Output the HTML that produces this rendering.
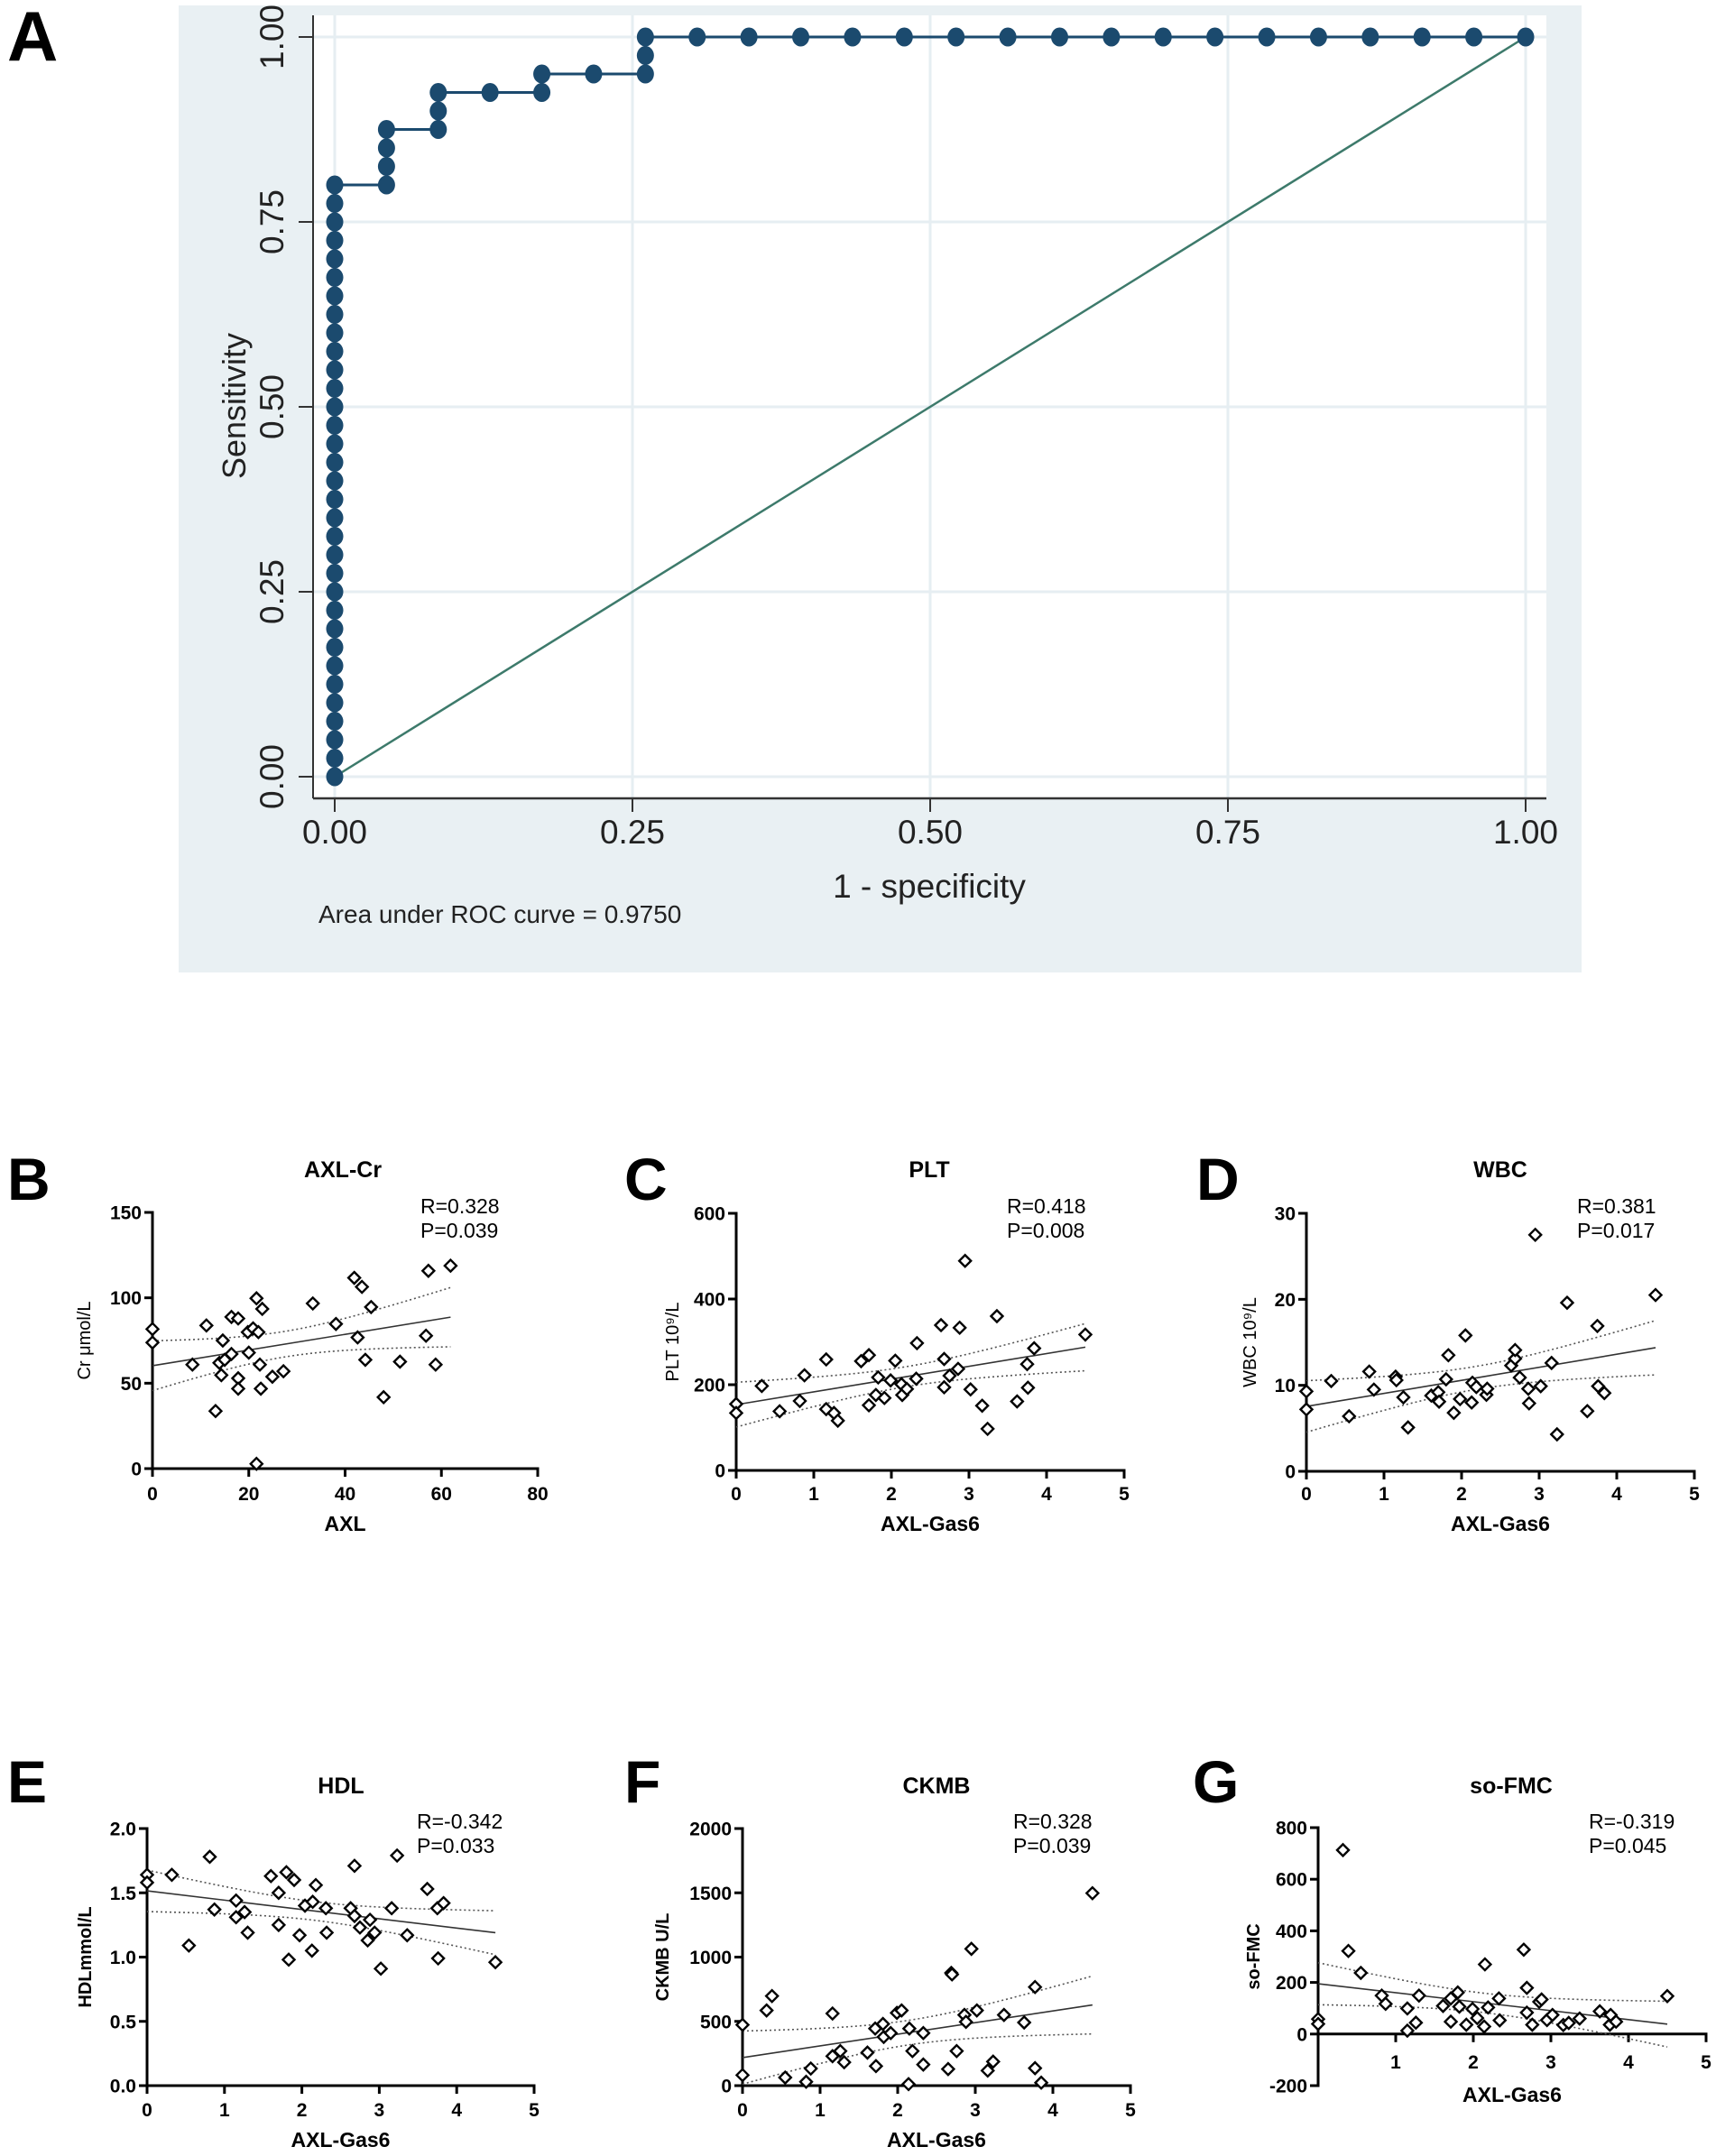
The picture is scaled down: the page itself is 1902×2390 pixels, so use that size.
<!DOCTYPE html>
<html><head><meta charset="utf-8"><style>
html,body{margin:0;padding:0;background:#fff;}
svg{display:block;font-family:"Liberation Sans",Arial,sans-serif;}
</style></head><body>
<svg id="fig" width="1902" height="2390" viewBox="0 0 1902 2390" xmlns="http://www.w3.org/2000/svg">
<rect x="198" y="6" width="1555" height="1072" fill="#e9f0f3"/>
<rect x="347" y="17" width="1367" height="868" fill="#ffffff"/>
<text x="8" y="67" font-size="78" font-weight="bold">A</text>
<g id="roc"></g>
<g id="scatters"></g>
</svg>
<script>
// ===== ROC data =====
const rocFpr = [0,0,0,0,0,0,0,0,0,0,0,0,0,0,0,0,0,0,0,0,0,0,0,0,0,0,0,0,0,0,0,0,0,
  1/23,1/23,1/23,1/23, 2/23,2/23,2/23, 3/23, 4/23,4/23, 5/23, 6/23,6/23,6/23,
  7/23,8/23,9/23,10/23,11/23,12/23,13/23,14/23,15/23,16/23,17/23,18/23,19/23,20/23,21/23,22/23,1];
const rocTpr = [0,0.025,0.05,0.075,0.1,0.125,0.15,0.175,0.2,0.225,0.25,0.275,0.3,0.325,0.35,0.375,0.4,0.425,0.45,0.475,0.5,0.525,0.55,0.575,0.6,0.625,0.65,0.675,0.7,0.725,0.75,0.775,0.8,
  0.8,0.825,0.85,0.875, 0.875,0.9,0.925, 0.925, 0.925,0.95, 0.95, 0.95,0.975,1,
  1,1,1,1,1,1,1,1,1,1,1,1,1,1,1,1,1];
const rocTicks = [0,0.25,0.5,0.75,1];
const rocTickLabels = ["0.00","0.25","0.50","0.75","1.00"];

const NS="http://www.w3.org/2000/svg";
function mk(tag, attrs, parent){const e=document.createElementNS(NS,tag);for(const k in attrs)e.setAttribute(k,attrs[k]);parent.appendChild(e);return e;}

(function(){
  const g=document.getElementById('roc');
  const X=v=>371+v*1320, Y=v=>861-v*820;
  rocTicks.forEach((t,i)=>{
    let gl=mk('line',{x1:X(t),x2:X(t),y1:17,y2:885,stroke:'#e6eef2','stroke-width':3},g);
    
    
    let gh=mk('line',{x1:347,x2:1714,y1:Y(t),y2:Y(t),stroke:'#e6eef2','stroke-width':3},g);
    
    
  });
  let ax=mk('line',{x1:347,x2:347,y1:17,y2:885,stroke:'#333','stroke-width':2},g);
  
  
  let bx=mk('line',{x1:347,x2:1714,y1:885,y2:885,stroke:'#333','stroke-width':2.5},g);
  
  
  rocTicks.forEach((t,i)=>{
    let a=mk('line',{x1:X(t),x2:X(t),y1:885,y2:900,stroke:'#333','stroke-width':2},g);
    
    
    let lt=mk('text',{x:X(t),y:935,'font-size':37,'text-anchor':'middle',fill:'#222'},g);
    lt.textContent=rocTickLabels[i];
    
    
    let b=mk('line',{x1:331,x2:347,y1:Y(t),y2:Y(t),stroke:'#333','stroke-width':2},g);
    
    
    let ly=mk('text',{x:0,y:0,'font-size':37,'text-anchor':'middle',fill:'#222',transform:`translate(314,${Y(t)}) rotate(-90)`},g);
    ly.textContent=rocTickLabels[i];
    
    
  });
  let d=mk('line',{x1:X(0),y1:Y(0),x2:X(1),y2:Y(1),stroke:'#3d7a6b','stroke-width':2.5},g);
  
  
  let pts=rocFpr.map((f,i)=>X(f)+','+Y(rocTpr[i])).join(' ');
  let pl=mk('polyline',{points:pts,fill:'none',stroke:'#1b4a6e','stroke-width':3},g);
  
  
  rocFpr.forEach((f,i)=>{
    let c=mk('ellipse',{cx:X(f),cy:Y(rocTpr[i]),rx:9.5,ry:10.5,fill:'#1b4a6e'},g);
    
    
  });
  let xt=mk('text',{x:1030,y:995,'font-size':37,'text-anchor':'middle',fill:'#222'},g);
  xt.textContent='1 - specificity';
  
  
  let yt=mk('text',{x:0,y:0,'font-size':36,'text-anchor':'middle',fill:'#222',transform:'translate(272,450) rotate(-90)'},g);
  yt.textContent='Sensitivity';
  
  
  let au=mk('text',{x:353,y:1023,'font-size':28,fill:'#222'},g);
  au.textContent='Area under ROC curve = 0.9750';
  
  
})();

// ===== Scatter data =====
const bX=[0,0,8.3,11.2,13.1,13.9,14.3,14.6,15,16.4,16.4,17.8,17.8,17.8,19.8,20,20.9,21.6,21.6,22,22.3,22.5,22.8,24.9,27.2,33.3,38.1,41.9,42.6,43.5,44.2,45.4,48,51.4,56.8,57.3,58.8,61.9];
const bY=[81.7,73.8,60.9,83.8,33.7,61.9,54.7,75,63.7,88.8,67.1,87.9,52.9,46.8,79.9,67.9,82.1,99.7,2.8,79.9,60.9,46.8,93.5,53.8,57,96.7,84.7,111.7,76.8,106.4,63.7,94.6,41.8,62.6,77.8,115.8,60.9,118.8];
const cX=[0,0,0.33,0.56,0.82,0.88,1.16,1.16,1.26,1.31,1.61,1.71,1.71,1.80,1.83,1.91,1.99,2.05,2.13,2.14,2.20,2.32,2.33,2.64,2.68,2.68,2.75,2.86,2.88,2.95,3.02,3.17,3.24,3.36,3.62,3.75,3.76,3.84,4.50];
const cY=[155,134,197,138,162,222,259,143,134,116,255,269,152,176,217,169,210,256,201,176,190,214,297,339,260,194,221,237,333,489,189,151,97,360,161,248,193,285,317];
const dX=[0,0,0.32,0.55,0.81,0.87,1.15,1.16,1.25,1.31,1.61,1.70,1.71,1.80,1.83,1.90,1.98,2.05,2.13,2.14,2.19,2.32,2.33,2.64,2.69,2.69,2.75,2.86,2.87,2.95,3.02,3.16,3.23,3.36,3.62,3.75,3.76,3.84,4.50];
const dY=[9.3,7.2,10.5,6.4,11.6,9.5,11.0,10.6,8.6,5.1,8.8,9.2,8.1,10.7,13.5,6.8,8.4,15.8,8.0,10.3,9.8,8.9,9.6,12.3,13.1,14.1,10.9,9.6,7.9,27.5,9.9,12.6,4.3,19.6,7.0,16.9,9.9,9.1,20.5];
const eX=[0,0,0.32,0.54,0.81,0.87,1.15,1.15,1.26,1.30,1.60,1.70,1.70,1.80,1.83,1.90,1.97,2.04,2.13,2.14,2.18,2.31,2.32,2.63,2.68,2.68,2.75,2.85,2.88,2.94,3.02,3.16,3.23,3.36,3.62,3.75,3.76,3.83,4.50];
const eY=[1.64,1.58,1.64,1.09,1.78,1.37,1.44,1.31,1.35,1.19,1.63,1.50,1.25,1.66,0.98,1.60,1.17,1.40,1.05,1.43,1.56,1.38,1.19,1.38,1.71,1.32,1.23,1.13,1.29,1.19,0.91,1.38,1.79,1.17,1.53,1.38,0.99,1.42,0.96];
const fX=[0,0,0.31,0.38,0.55,0.82,0.88,1.16,1.16,1.26,1.31,1.61,1.71,1.72,1.81,1.82,1.91,1.99,2.05,2.14,2.15,2.19,2.33,2.33,2.65,2.69,2.70,2.76,2.86,2.88,2.95,3.02,3.16,3.23,3.37,3.63,3.77,3.77,3.85,4.51];
const fY=[473,82,585,697,63,30,133,561,229,269,182,257,444,152,480,379,409,566,585,12,444,269,409,164,129,877,865,269,550,496,1064,585,117,187,550,491,767,136,23,1497];
const gX=[0,0,0.32,0.39,0.55,0.82,0.87,1.15,1.15,1.26,1.30,1.61,1.71,1.71,1.80,1.82,1.91,1.99,2.05,2.14,2.15,2.19,2.33,2.34,2.65,2.69,2.69,2.76,2.85,2.88,2.95,3.02,3.16,3.23,3.37,3.63,3.76,3.77,3.84,4.50];
const gY=[58,39,713,322,237,149,117,99,13,44,149,109,138,48,161,106,36,97,62,29,270,103,138,53,327,83,179,36,125,134,54,74,35,43,60,88,36,74,48,147];
const bTicksX=[0,20,40,60,80], bTicksY=[0,50,100,150];
const cTicksX=[0,1,2,3,4,5], cTicksY=[0,200,400,600];
const dTicksX=[0,1,2,3,4,5], dTicksY=[0,10,20,30];
const eTicksX=[0,1,2,3,4,5], eTicksY=[0,0.5,1.0,1.5,2.0], eTickLabelsY=["0.0","0.5","1.0","1.5","2.0"];
const fTicksX=[0,1,2,3,4,5], fTicksY=[0,500,1000,1500,2000];
const gTicksX=[1,2,3,4,5], gTicksY=[-200,0,200,400,600,800];

const panels=[
 {id:'b',letter:'B',lx:8,ly:1330,title:'AXL-Cr',tx:380,ty:1305,sx:466,sy:1345,R:'R=0.328',P:'P=0.039',
  ox:169,oy:1628,w:427,h:284,xmin:0,xmax:80,ymin:0,ymax:150,xs:bX,ys:bY,tX:bTicksX,tY:bTicksY,
  ylab:'Cr μmol/L',ylabx:100,ylabBold:false,xlab:'AXL',xlaby:1697,tly:1663},
 {id:'c',letter:'C',lx:692,ly:1330,title:'PLT',tx:1030,ty:1305,sx:1116,sy:1345,R:'R=0.418',P:'P=0.008',
  ox:816,oy:1630,w:430,h:285,xmin:0,xmax:5,ymin:0,ymax:600,xs:cX,ys:cY,tX:cTicksX,tY:cTicksY,
  ylab:'PLT 10⁹/L',ylabx:752,ylabBold:false,xlab:'AXL-Gas6',xlaby:1697,tly:1663},
 {id:'d',letter:'D',lx:1326,ly:1330,title:'WBC',tx:1663,ty:1305,sx:1748,sy:1345,R:'R=0.381',P:'P=0.017',
  ox:1448,oy:1631,w:430,h:286,xmin:0,xmax:5,ymin:0,ymax:30,xs:dX,ys:dY,tX:dTicksX,tY:dTicksY,
  ylab:'WBC 10⁹/L',ylabx:1392,ylabBold:false,xlab:'AXL-Gas6',xlaby:1697,tly:1663},
 {id:'e',letter:'E',lx:8,ly:1998,title:'HDL',tx:378,ty:1988,sx:462,sy:2027,R:'R=-0.342',P:'P=0.033',
  ox:163,oy:2312,w:429,h:285,xmin:0,xmax:5,ymin:0,ymax:2,xs:eX,ys:eY,tX:eTicksX,tY:eTicksY,tYL:eTickLabelsY,
  ylab:'HDLmmol/L',ylabx:101,ylabBold:true,xlab:'AXL-Gas6',xlaby:2380,tly:2346},
 {id:'f',letter:'F',lx:692,ly:1998,title:'CKMB',tx:1038,ty:1988,sx:1123,sy:2027,R:'R=0.328',P:'P=0.039',
  ox:823,oy:2312,w:430,h:285,xmin:0,xmax:5,ymin:0,ymax:2000,xs:fX,ys:fY,tX:fTicksX,tY:fTicksY,
  ylab:'CKMB U/L',ylabx:741,ylabBold:true,xlab:'AXL-Gas6',xlaby:2380,tly:2346},
 {id:'g',letter:'G',lx:1322,ly:1998,title:'so-FMC',tx:1675,ty:1988,sx:1761,sy:2027,R:'R=-0.319',P:'P=0.045',
  ox:1461,oy:2312,w:430,h:286,xmin:0,xmax:5,ymin:-200,ymax:800,xs:gX,ys:gY,tX:gTicksX,tY:gTicksY,
  ylab:'so-FMC',ylabx:1396,ylabBold:true,xlab:'AXL-Gas6',xlaby:2330,tly:2293,xAxisAtZero:true,xlabx:1676}
];

function fmt(v){return String(v);}

panels.forEach(p=>{
  const root=document.getElementById('scatters');
  const g=mk('g',{},root);
  
  
  const X=v=>p.ox+(v-p.xmin)/(p.xmax-p.xmin)*p.w;
  const Y=v=>p.oy-(v-p.ymin)/(p.ymax-p.ymin)*p.h;
  const xAxisY=p.xAxisAtZero?Y(0):p.oy;
  const top=p.oy-p.h;
  let L=mk('text',{x:p.lx,y:p.ly,'font-size':66,'font-weight':'bold',fill:'#000'},g);
  L.textContent=p.letter;
  
  
  let T=mk('text',{x:p.tx,y:p.ty,'font-size':25,'font-weight':'bold','text-anchor':'middle'},g);
  T.textContent=p.title;
  
  
  let r=mk('text',{x:p.sx,y:p.sy,'font-size':23},g);
  r.textContent=p.R;
  
  
  let pv=mk('text',{x:p.sx,y:p.sy+27,'font-size':23},g);
  pv.textContent=p.P;
  
  
  // axes
  let ya=mk('line',{x1:p.ox,x2:p.ox,y1:top-1.5,y2:p.oy+1.5,stroke:'#000','stroke-width':3},g);
  
  
  let xa=mk('line',{x1:p.ox-1.5,x2:p.ox+p.w+1.5,y1:xAxisY,y2:xAxisY,stroke:'#000','stroke-width':3},g);
  
  
  p.tX.forEach(t=>{
    let tk=mk('line',{x1:X(t),x2:X(t),y1:xAxisY,y2:xAxisY+9,stroke:'#000','stroke-width':3},g);
    
    
    let tl=mk('text',{x:X(t),y:p.tly,'font-size':21,'font-weight':'bold','text-anchor':'middle'},g);
    tl.textContent=fmt(t);
    
    
  });
  p.tY.forEach((t,i)=>{
    let tk=mk('line',{x1:p.ox-9,x2:p.ox,y1:Y(t),y2:Y(t),stroke:'#000','stroke-width':3},g);
    
    
    let tl=mk('text',{x:p.ox-12,y:Y(t)+7.5,'font-size':21,'font-weight':'bold','text-anchor':'end'},g);
    tl.textContent=p.tYL?p.tYL[i]:fmt(t);
    
    
  });
  let yl=mk('text',{x:0,y:0,'font-size':20,'font-weight':p.ylabBold?'bold':'normal','text-anchor':'middle',transform:`translate(${p.ylabx},${(top+p.oy)/2}) rotate(-90)`},g);
  yl.textContent=p.ylab;
  
  
  let xl=mk('text',{x:p.xlabx||X((p.xmin+p.xmax)/2),y:p.xlaby,'font-size':23,'font-weight':'bold','text-anchor':'middle'},g);
  xl.textContent=p.xlab;
  
  
  // regression
  const n=p.xs.length;
  const mx=p.xs.reduce((a,b)=>a+b,0)/n, my=p.ys.reduce((a,b)=>a+b,0)/n;
  let sxx=0,sxy=0;
  for(let i=0;i<n;i++){sxx+=(p.xs[i]-mx)**2;sxy+=(p.xs[i]-mx)*(p.ys[i]-my);}
  const b1=sxy/sxx,b0=my-b1*mx;
  let sse=0;for(let i=0;i<n;i++){sse+=(p.ys[i]-b0-b1*p.xs[i])**2;}
  const s=Math.sqrt(sse/(n-2)),tcrit=2.025;
  const x0=Math.min(...p.xs),x1=Math.max(...p.xs);
  let up=[],lo=[];
  for(let k=0;k<=40;k++){
    const xv=x0+(x1-x0)*k/40, yv=b0+b1*xv;
    const se=s*Math.sqrt(1/n+(xv-mx)**2/sxx);
    up.push(X(xv)+','+Y(yv+tcrit*se));lo.push(X(xv)+','+Y(yv-tcrit*se));
  }
  let cu=mk('polyline',{points:up.join(' '),fill:'none',stroke:'#555','stroke-width':1.6,'stroke-dasharray':'2,3'},g);
  
  
  let cl=mk('polyline',{points:lo.join(' '),fill:'none',stroke:'#555','stroke-width':1.6,'stroke-dasharray':'2,3'},g);
  
  
  let rl=mk('line',{x1:X(x0),y1:Y(b0+b1*x0),x2:X(x1),y2:Y(b0+b1*x1),stroke:'#333','stroke-width':1.6},g);
  
  
  // points
  for(let i=0;i<n;i++){
    const cx=X(p.xs[i]),cy=Y(p.ys[i]),d=6.5;
    let pt=mk('polygon',{points:`${cx},${cy-d} ${cx+d},${cy} ${cx},${cy+d} ${cx-d},${cy}`,fill:'#fff',stroke:'#000','stroke-width':2.4},g);
    
    
  }
});
</script>
</body></html>
